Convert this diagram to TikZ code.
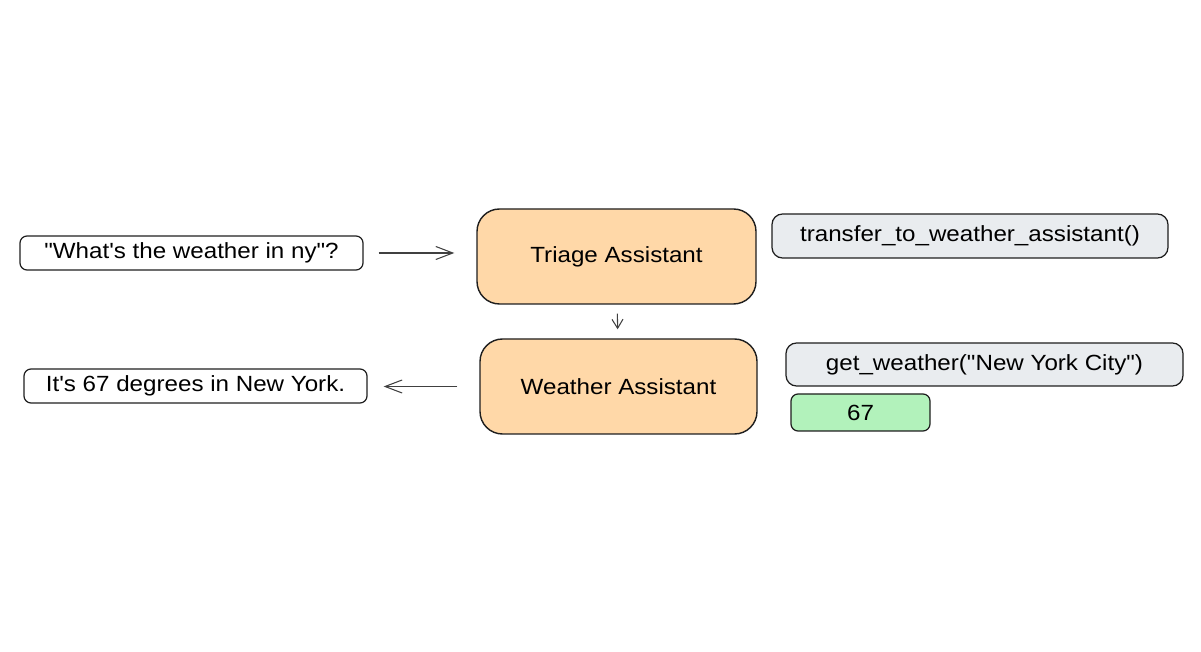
\documentclass[tikz,border=0pt]{standalone}
\usepackage{fontspec}
\newfontfamily\diagfont{Liberation Sans}[FakeStretch=1.1]
\usepackage{xcolor}
\usetikzlibrary{arrows.meta,positioning}
\definecolor{agentfill}{HTML}{FFD8A8}
\definecolor{callfill}{HTML}{E9ECEF}
\definecolor{resultfill}{HTML}{B2F2BB}
\definecolor{inkline}{HTML}{1E1E1E}

\begin{document}
\begin{tikzpicture}[
  msg/.style={rectangle, draw=inkline, line width=0.7pt, rounded corners=4pt, minimum width=6.86cm, minimum height=0.68cm, font=\diagfont\fontsize{12.5}{14}\selectfont, align=center, inner sep=0pt},
  agent/.style={rectangle, draw=inkline, line width=0.8pt, fill=agentfill, rounded corners=0.45cm, minimum height=1.9cm, font=\diagfont\fontsize{12.5}{14}\selectfont, align=center, inner sep=0pt},
  call/.style={rectangle, draw=inkline, line width=0.7pt, fill=callfill, rounded corners=6pt, font=\diagfont\fontsize{12.5}{14}\selectfont, align=center, inner sep=0pt},
  >={Straight Barb[length=3.4mm, width=2.6mm]},
  flow/.style={->, draw=inkline!85, line width=0.6pt}
]
\useasboundingbox (0,0) rectangle (24.02,13.02);

% Agents
\node[agent, minimum width=5.58cm] (triage) at (12.33,7.89) {Triage Assistant};
\node[agent, minimum width=5.54cm] (weather) at (12.37,5.29) {Weather Assistant};

% Messages
\node[msg] (question) at (3.83,7.96) {"What's the weather in ny"?};
\node[msg] (answer) at (3.91,5.30) {It's 67 degrees in New York.};

% Tool calls
\node[call, minimum width=7.92cm, minimum height=0.88cm] (transfer) at (19.40,8.30) {transfer\_to\_weather\_assistant()};
\node[call, minimum width=7.94cm, minimum height=0.86cm] (getweather) at (19.69,5.73) {get\_weather("New York City")};
\node[call, fill=resultfill, minimum width=2.78cm, minimum height=0.74cm, rounded corners=4pt] (result) at (17.21,4.77) {67};

\draw[flow, shorten <=0.3cm, shorten >=0.44cm] (question.east) -- (question.east -| triage.west);
\draw[flow, shorten <=0.18cm, shorten >=0.18cm, {Straight Barb[length=1.8mm, width=2.2mm]}-] (weather) -- (triage);
\draw[flow, shorten <=0.44cm, shorten >=0.32cm] (weather.west) -- (weather.west -| answer.east);
\end{tikzpicture}
\end{document}
